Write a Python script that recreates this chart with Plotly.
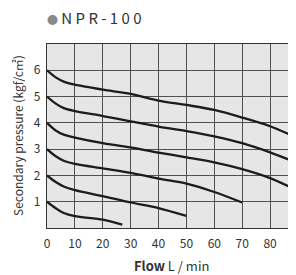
import plotly.graph_objects as go

# Flow (L/min) and secondary pressure (kgf/cm2) for each set pressure curve
flow_6 = [0, 3, 6, 10, 20, 30, 40, 50, 60, 70, 80, 89]
pres_6 = [6.0, 5.74, 5.57, 5.45, 5.26, 5.1, 4.85, 4.68, 4.49, 4.2, 3.87, 3.46]

flow_5 = [0, 3, 6, 10, 20, 30, 40, 50, 60, 70, 80, 89]
pres_5 = [5.0, 4.74, 4.56, 4.45, 4.26, 4.06, 3.86, 3.69, 3.49, 3.23, 2.88, 2.5]

flow_4 = [0, 3, 6, 10, 20, 30, 40, 50, 60, 70, 80, 89]
pres_4 = [4.0, 3.72, 3.55, 3.44, 3.23, 3.07, 2.87, 2.69, 2.5, 2.24, 1.9, 1.47]

flow_3 = [0, 3, 6, 10, 20, 30, 40, 50, 60, 70]
pres_3 = [3.0, 2.74, 2.56, 2.44, 2.27, 2.1, 1.88, 1.69, 1.37, 0.97]

flow_2 = [0, 3, 6, 10, 20, 30, 40, 50]
pres_2 = [2.0, 1.76, 1.58, 1.44, 1.21, 0.97, 0.76, 0.46]

flow_1 = [0, 3, 6, 10, 20, 27]
pres_1 = [1.0, 0.76, 0.57, 0.45, 0.32, 0.13]

x_ticks = [0, 10, 20, 30, 40, 50, 60, 70, 80]
y_ticks = [0, 1, 2, 3, 4, 5, 6, 7]
y_tick_text = ["", "1", "2", "3", "4", "5", "6", ""]

series = [(flow_6, pres_6), (flow_5, pres_5), (flow_4, pres_4),
          (flow_3, pres_3), (flow_2, pres_2), (flow_1, pres_1)]

FONT = "Noto Sans CJK JP"
fig = go.Figure()
for fx, py in series:
    fig.add_trace(go.Scatter(
        x=fx, y=py, mode="lines",
        line=dict(color="#1c1c1c", width=2.3, shape="spline", smoothing=0.8),
        showlegend=False, hoverinfo="skip"))

# page body has an 8px default margin, so the figure is 8px smaller
fig.update_layout(
    width=288, height=267,
    margin=dict(l=39, r=0, t=36, b=47, autoexpand=False),
    paper_bgcolor="white",
    plot_bgcolor="#e6e6e6",
    font=dict(family=FONT, size=12, color="#333333"),
    xaxis=dict(
        range=[0, 89.3], tickvals=x_ticks, showgrid=True,
        gridcolor="#505050", gridwidth=1, zeroline=False,
        showline=True, linecolor="#333333", linewidth=1.2, mirror=True,
        ticks="outside", ticklen=4, tickcolor="rgba(0,0,0,0)",
        tickfont=dict(size=12, color="#333333"), automargin=False,
        layer="below traces",
    ),
    yaxis=dict(
        range=[0, 7], tickvals=y_ticks, ticktext=y_tick_text, showgrid=True,
        gridcolor="#505050", gridwidth=1, zeroline=False,
        showline=True, linecolor="#333333", linewidth=1.2,
        ticks="outside", ticklen=3, tickcolor="rgba(0,0,0,0)",
        tickfont=dict(size=12, color="#333333"), automargin=False,
        layer="below traces",
    ),
    annotations=[
        dict(text="<span style='color:#8a8a8a;font-size:11px'>\u25cf</span> N P R - 1 0 0",
             xref="paper", yref="paper", x=0.0, y=1.0, xanchor="left", yanchor="middle",
             xshift=-1, yshift=27, showarrow=False, borderpad=0,
             font=dict(family=FONT, size=15, color="#333333")),
        dict(text="<b>Flow</b> L / min",
             xref="paper", yref="paper", x=0.5, y=0.0, xanchor="center", yanchor="middle",
             yshift=-37, showarrow=False,
             font=dict(family=FONT, size=13, color="#333333")),
        dict(text="Secondary pressure (kgf/c\u33a1)", textangle=-90,
             xref="paper", yref="paper", x=0.0, y=0.5, xanchor="center", yanchor="middle",
             xshift=-30, yshift=0, showarrow=False,
             font=dict(family=FONT, size=12, color="#333333")),
    ],
)

fig.write_html("out.html")
